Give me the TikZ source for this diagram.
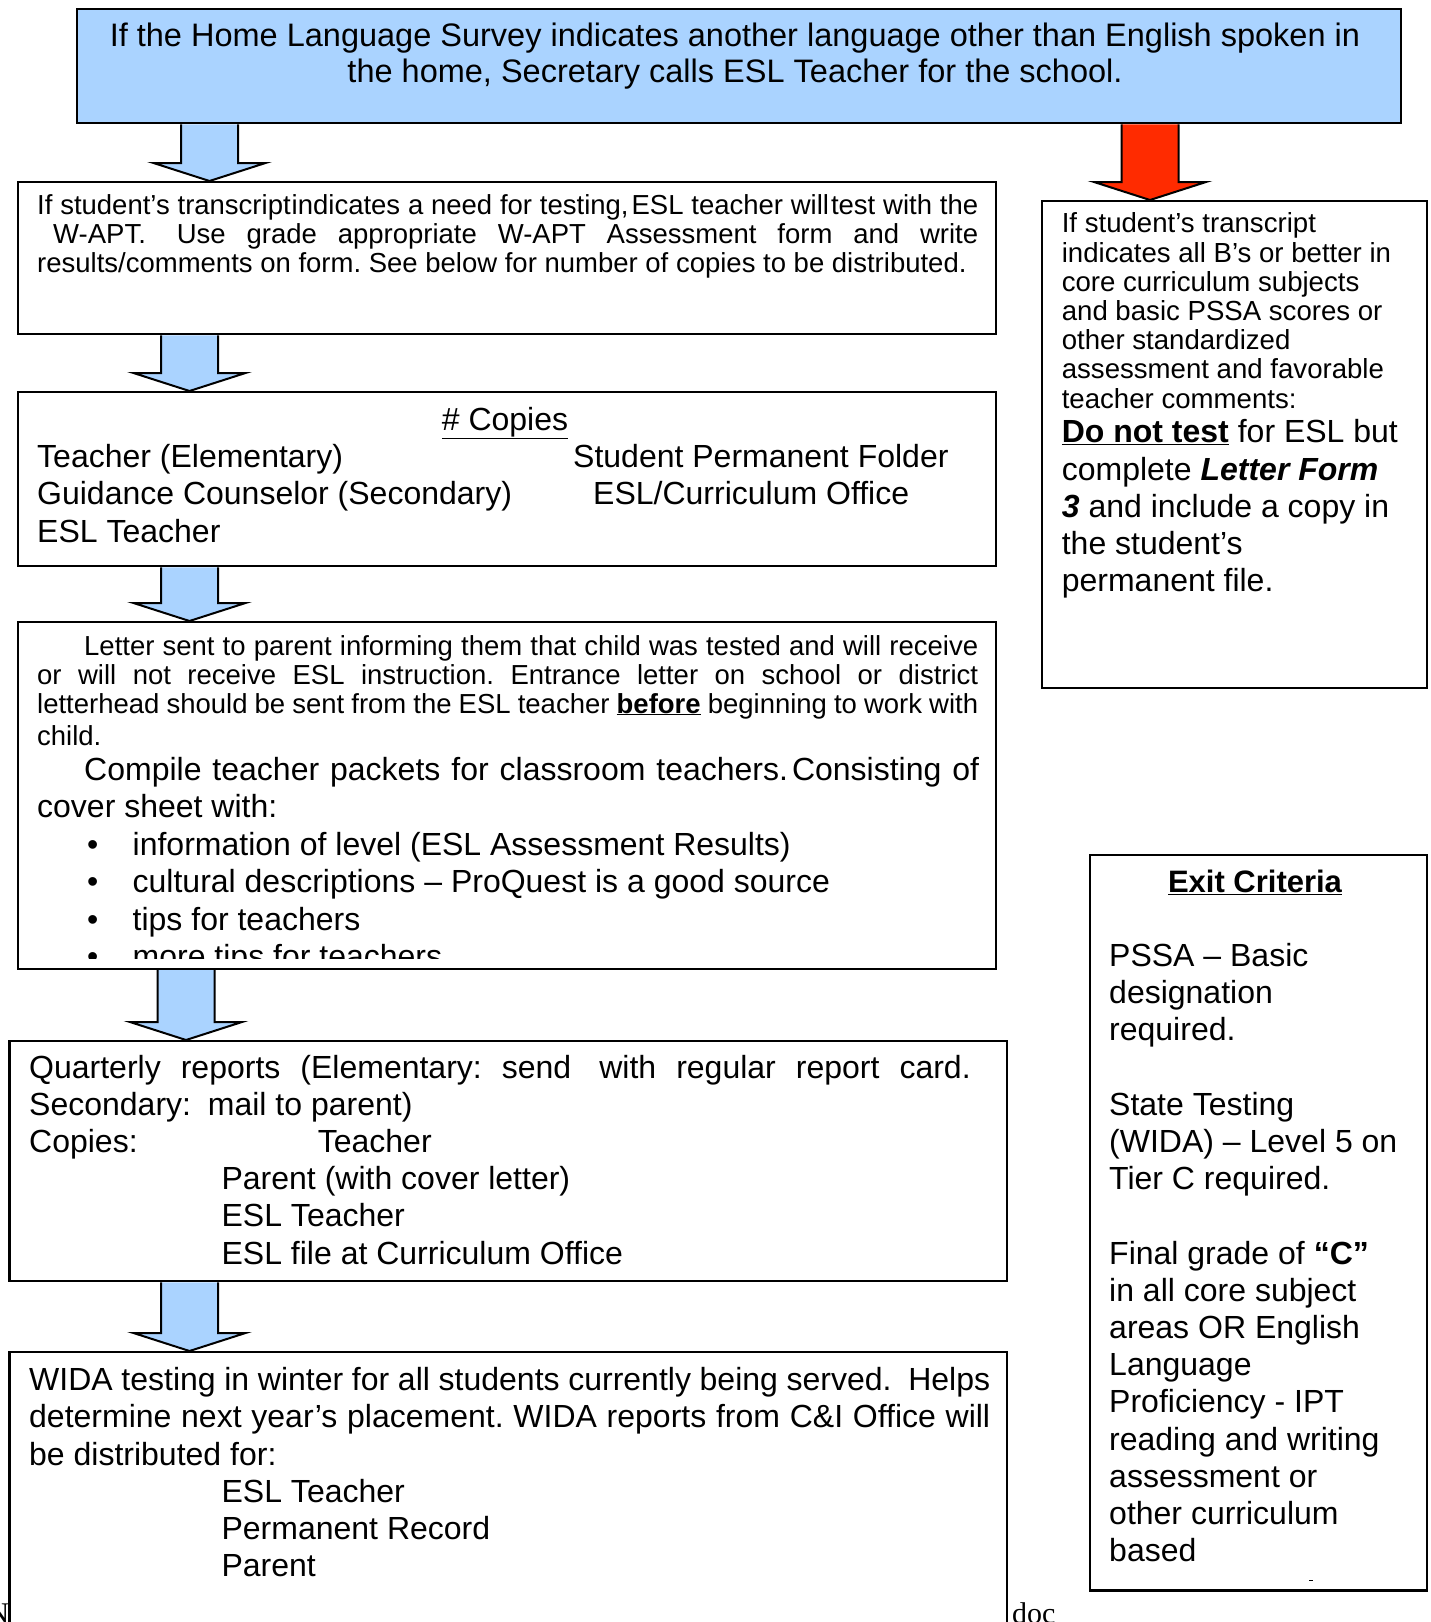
\documentclass[tikz,border=0pt]{standalone}
\usepackage{fontspec}
\setmainfont{Liberation Sans}
\newfontfamily\serifnote{Liberation Serif}
\usetikzlibrary{backgrounds,calc}
\definecolor{lblue}{RGB}{170,211,255}
\definecolor{ared}{RGB}{255,43,0}
\newcommand\fixsp{\spaceskip=.278em\relax\xspaceskip=0pt\relax\frenchspacing}
\newcommand\jl[2]{\makebox[#1][s]{\spaceskip=.278em plus 1fil minus .15em\relax #2}}
\newcommand\smtxt{\fontsize{27.5}{29}\selectfont}
\newcommand\smrtxt{\fontsize{27.6}{29.2}\selectfont}
\newcommand\lgtxt{\fontsize{32}{37.2}\selectfont}
\newcommand\toptxt{\fontsize{32.5}{36}\selectfont}
\newcommand\blockarrow[4]{%
  \draw[#1] let \p1=(#2.south), \p2=(#3.north) in
    (#4pt-28.5pt,\y1) -- (#4pt-28.5pt,\y2+18pt) -- (#4pt-56pt,\y2+18pt) --
    (#4pt,\y2) -- (#4pt+56pt,\y2+18pt) -- (#4pt+28.5pt,\y2+18pt) -- (#4pt+28.5pt,\y1);}
\begin{document}
\begin{tikzpicture}[x=1pt,y=-1pt,
  frame/.style={draw=black,line width=2.4pt,rectangle,inner sep=0pt,anchor=north west},
  txt/.style={inner sep=0pt,anchor=base west,align=left},
  barrowstyle/.style={draw=black,line width=2pt,fill=lblue,line join=miter},
  rarrowstyle/.style={draw=black,line width=2pt,fill=ared,line join=miter}]
\useasboundingbox (0,0) rectangle (1430,1622);
\clip (0,0) rectangle (1430,1622);

% boxes
\node[frame,fill=lblue,minimum width=1324.5pt,minimum height=114pt] (topbox) at (75.5,8) {};
\node[frame,minimum width=978.5pt,minimum height=152pt] (b2) at (16.5,181) {};
\node[frame,minimum width=978.5pt,minimum height=174pt] (b3) at (16.5,391) {};
\node[frame,minimum width=978.5pt,minimum height=346.5pt] (b4) at (16.5,621) {};
\node[frame,minimum width=997.5pt,minimum height=240pt] (b5) at (8.3,1040) {};
\node[frame,minimum width=997.5pt,minimum height=349pt] (b6) at (8.3,1351) {};
\node[frame,minimum width=384.5pt,minimum height=487pt] (rbox) at (1041,200) {};
\node[frame,minimum width=337.3pt,minimum height=735.7pt] (exbox) at (1088.5,853.6) {};

% arrows
\begin{scope}[on background layer]
\blockarrow{barrowstyle}{topbox}{b2}{209.5}
\blockarrow{rarrowstyle}{topbox}{rbox}{1150}
\blockarrow{barrowstyle}{b2}{b3}{189.5}
\blockarrow{barrowstyle}{b3}{b4}{189.5}
\blockarrow{barrowstyle}{b4}{b5}{186}
\blockarrow{barrowstyle}{b5}{b6}{189.5}
\end{scope}

% top box text
\node[inner sep=0pt,anchor=base,align=center,text width=1310pt,font=\toptxt] (toptext) at (735,46)
  {\fixsp If the Home Language Survey indicates another language other than English spoken in\\
   the home, Secretary calls ESL Teacher for the school.};

% box 2
\node[txt,text width=960pt,font=\smtxt] (b2text) at (37,214) {\fixsp
\jl{941pt}{If student’s transcript\hspace{1pt}indicates a need for testing,\hspace{3pt}ESL teacher will\hspace{2pt}test with the}\\
\jl{941pt}{\hspace{16pt}W-APT.\hspace{10pt} Use grade appropriate W-APT Assessment form and write}\\
results/comments on form. See below for number of copies to be distributed.};

% box 3
\node[inner sep=0pt,anchor=base,font=\lgtxt] (b3head) at (505,430.5) {\underline{\# Copies}};
\node[txt,text width=500pt,font=\lgtxt] (b3left) at (37,467.7) {\fixsp Teacher (Elementary)\\Guidance Counselor (Secondary)\\ESL Teacher};
\node[txt,text width=400pt,font=\lgtxt] (b3right) at (573,467.7) {\fixsp Student Permanent Folder\\\hspace*{20pt}ESL/Curriculum Office};

% box 4
\node[txt,text width=960pt,font=\smtxt] (b4small) at (37,655) {\fixsp
\jl{941pt}{\hspace{47pt}Letter sent to parent informing them that child was tested and will receive}\\
\jl{941pt}{or will not receive ESL instruction. Entrance letter on school or district}\\
\jl{941pt}{letterhead should be sent from the ESL teacher \textbf{\underline{before}} beginning to work with}\\[3pt]
child.};
\node[txt,text width=960pt,font=\lgtxt] (b4large) at (37,780) {\fixsp
\jl{942pt}{\hspace{47pt}Compile teacher packets for classroom teachers.\hspace{4pt}Consisting of}\\
cover sheet with:};
\begin{scope}
\clip (16.5,621) rectangle (995,958);
\node[txt,text width=20pt,font=\lgtxt] (b4bul) at (87,855.7) {•\\•\\•\\•};
\node[txt,text width=850pt,font=\lgtxt] (b4list) at (132.5,855.7) {\fixsp information of level (ESL Assessment Results)\\
cultural descriptions – ProQuest is a good source\\
tips for teachers\\
more tips for teachers};
\end{scope}

% box 5
\node[txt,text width=960pt,font=\lgtxt] (b5text) at (29,1078) {\fixsp
\jl{941.6pt}{Quarterly reports (Elementary: send\hspace{8pt} with regular report card.}\\
Secondary:\hspace{8pt} mail to parent)\\
\makebox[288.6pt][l]{Copies:}Teacher\\
\hspace*{192.4pt}Parent (with cover letter)\\
\hspace*{192.4pt}ESL Teacher\\
\hspace*{192.4pt}ESL file at Curriculum Office};

% box 6
\node[txt,text width=975pt,font=\lgtxt] (b6text) at (29,1390.6) {\fixsp
\jl{961pt}{WIDA testing in winter for all students currently being served.\hspace{8pt} Helps}\\
\jl{961pt}{determine next year’s placement. WIDA reports from C\&I Office will}\\
be distributed for:\\
\hspace*{192.4pt}ESL Teacher\\
\hspace*{192.4pt}Permanent Record\\
\hspace*{192.4pt}Parent};

% right box
\node[txt,text width=355pt,font=\smrtxt] (rsmall) at (1061.6,232.8) {\fixsp
If student’s transcript\\
indicates all B’s or better in\\
core curriculum subjects\\
and basic PSSA scores or\\
other standardized\\
assessment and favorable\\
teacher comments:};
\node[txt,text width=355pt,font=\lgtxt] (rlarge) at (1061.6,442.9) {\fixsp
\textbf{\underline{Do not test}} for ESL but\\
complete \textbf{\textit{Letter Form}}\\
\textbf{\textit{3}} and include a copy in\\
the student’s\\
permanent file.};

% exit criteria
\node[inner sep=0pt,anchor=base,font={\fontsize{31}{31}\selectfont}] (exhead) at (1255,892) {\textbf{\underline{Exit Criteria}}};
\node[txt,text width=315pt,font=\lgtxt] (extext) at (1109,966.4) {\fixsp
PSSA – Basic\\
designation\\
required.\\[37.2pt]
State Testing\\
(WIDA) – Level 5 on\\
Tier C required.\\[37.2pt]
Final grade of \textbf{“C”}\\
in all core subject\\
areas OR English\\
Language\\
Proficiency - IPT\\
reading and writing\\
assessment or\\
other curriculum\\
based};
\draw[line width=1pt] (1309,1580) -- (1313,1580);

% page footer remnants
\node[inner sep=0pt,anchor=base east,font={\serifnote\fontsize{30}{30}\selectfont}] (footN) at (9.5,1623) {N};
\node[inner sep=0pt,anchor=base west,font={\serifnote\fontsize{30}{30}\selectfont}] (footdoc) at (1012,1623) {doc};
\end{tikzpicture}
\end{document}
